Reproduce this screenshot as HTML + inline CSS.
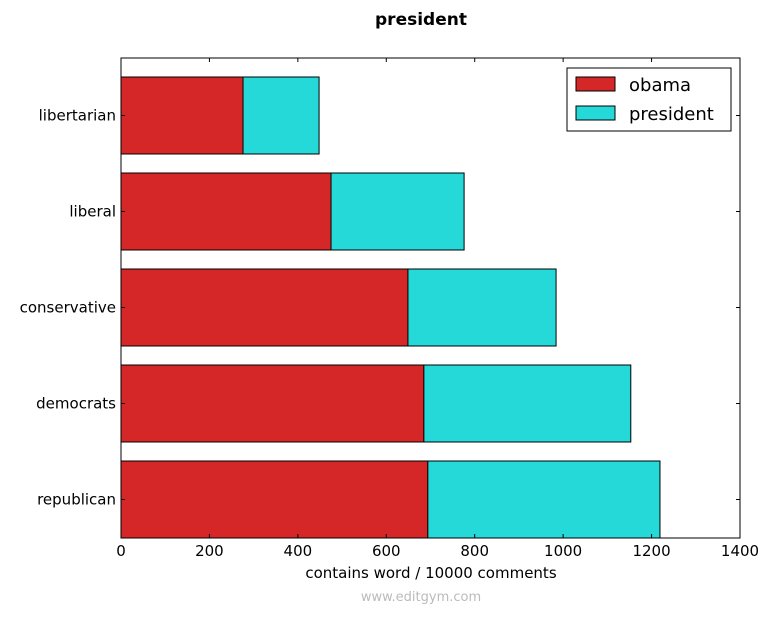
<!DOCTYPE html>
<html><head><meta charset="utf-8"><style>
body{margin:0;background:#fff;font-family:"DejaVu Sans","Liberation Sans",sans-serif}
</style></head><body>
<svg width="770" height="614" id="c" font-family="DejaVu Sans, Liberation Sans, sans-serif">
<rect width="770" height="614" fill="#fff"/>
<text x="421" y="25" text-anchor="middle" font-size="17" font-weight="bold">president</text>
<g id="bars"></g>
<rect x="121" y="58" width="619" height="480" fill="none" stroke="#000"/>
<g id="axes"></g>
<text x="431" y="578" text-anchor="middle" font-size="15">contains word / 10000 comments</text>
<text x="421" y="601" text-anchor="middle" font-size="13" fill="#bbb">www.editgym.com</text>
<g>
<rect x="567" y="68" width="164" height="63" fill="#fff" stroke="#000"/>
<rect x="576" y="77" width="39" height="14" fill="#d62728" stroke="#000"/>
<text x="629" y="91" font-size="18">obama</text>
<rect x="576" y="106" width="39" height="14" fill="#26d9d9" stroke="#000"/>
<text x="629" y="120" font-size="18">president</text>
</g>
</svg>
<script>
const categories=["republican","democrats","conservative","liberal","libertarian"];
const obamaValues=[694,685,649,475,276];
const presidentValues=[525,468,335,301,172];
const xTicks=[0,200,400,600,800,1000,1200,1400];
const NS="http://www.w3.org/2000/svg";
const x0=121,x1=740,yTop=58,yBot=538,xMax=1400;
const xs=v=>x0+v/xMax*(x1-x0);
const band=96,barH=77;
const yc=i=>yBot-barH/2-band*i;
const bars=document.getElementById('bars'),axes=document.getElementById('axes');
function mk(t,a,p){const e=document.createElementNS(NS,t);for(const k in a)e.setAttribute(k,a[k]);p.appendChild(e);return e;}
categories.forEach((c,i)=>{
 const h=barH,y=yc(i)-h/2;
 const r1=mk('rect',{x:xs(0),y:y,width:xs(obamaValues[i])-xs(0),height:h,fill:'#d62728',stroke:'#000'},bars);
 
 
 const r2=mk('rect',{x:xs(obamaValues[i]),y:y,width:xs(obamaValues[i]+presidentValues[i])-xs(obamaValues[i]),height:h,fill:'#26d9d9',stroke:'#000'},bars);
 
 
 const t=mk('text',{x:116,y:yc(i)+5,'text-anchor':'end','font-size':15},axes);
 t.textContent=c;
 
 
 mk('line',{x1:x0,x2:x0+4,y1:yc(i),y2:yc(i),stroke:'#000'},axes);
 mk('line',{x1:x1,x2:x1-4,y1:yc(i),y2:yc(i),stroke:'#000'},axes);
});
xTicks.forEach(v=>{
 const x=xs(v);
 mk('line',{x1:x,x2:x,y1:yBot,y2:yBot-4,stroke:'#000'},axes);
 mk('line',{x1:x,x2:x,y1:yTop,y2:yTop+4,stroke:'#000'},axes);
 const t=mk('text',{x:x,y:556,'text-anchor':'middle','font-size':15},axes);
 t.textContent=v;
 
 
});
</script>
</body></html>
